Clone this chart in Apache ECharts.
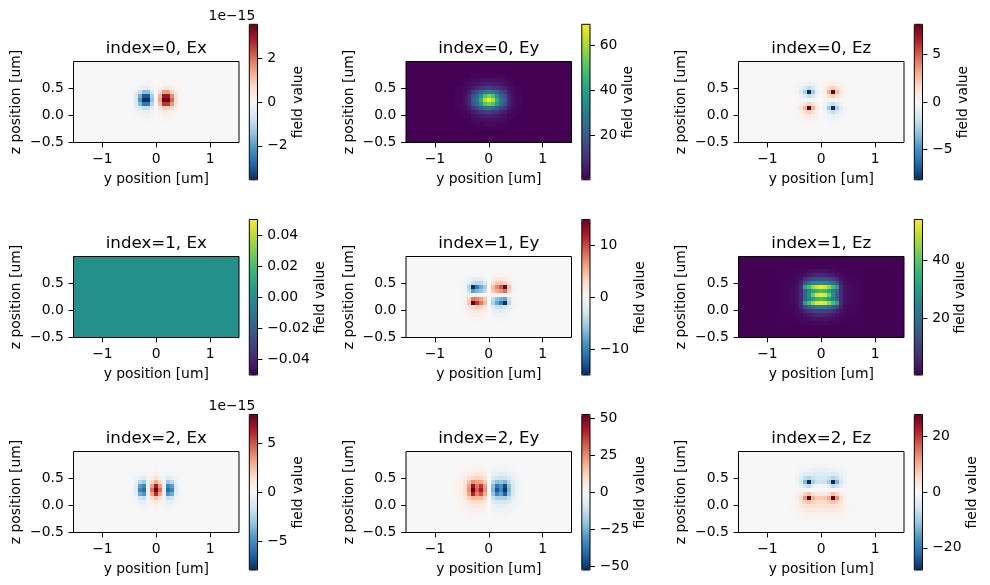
<!DOCTYPE html>
<html>
<head>
<meta charset="utf-8">
<script src="https://cdn.jsdelivr.net/npm/echarts@6/dist/echarts.min.js"></script>
<style>html,body{margin:0;padding:0;background:#fff}#chart{width:990px;height:585px}</style>
</head>
<body>
<div id="chart"></div>
<script>
// Mode field cross-sections on a 41 x 20 mesh. Only the cells around the
// waveguide core are listed: rows 2-16 from the top, columns -10..10 around y=0.
// Everything outside that patch sits at the panel's background level.
const ex0 = [
[0,0,0,0,0,0,0,0,0,0,0,0,0,0,0,0,0,0,0,0,0],
[0,0,0,0,0,0,0,0,0,0,0,0,0,0,0,0,0,0,0,0,0],
[0,0,0,0,0,0,-1,-1,-1,-1,0,1,1,1,1,0,0,0,0,0,0],
[0,0,0,0,-1,-1,-2,-3,-3,-1,0,1,3,3,2,1,1,0,0,0,0],
[0,0,0,0,-1,-3,-6,-10,-10,-4,0,4,10,10,6,3,1,0,0,0,0],
[0,0,0,0,-2,-8,-22,-42,-42,-16,0,16,42,42,22,8,2,0,0,0,0],
[0,0,0,0,-2,-15,-48,-85,-85,-34,0,34,85,85,48,15,2,0,0,0,0],
[0,0,0,0,-2,-18,-58,-100,-100,-40,0,40,100,100,58,18,2,0,0,0,0],
[0,0,0,0,-2,-14,-44,-72,-72,-30,0,30,72,72,44,14,2,0,0,0,0],
[0,0,0,0,-1,-7,-16,-24,-24,-10,0,10,24,24,16,7,1,0,0,0,0],
[0,0,0,0,-1,-3,-6,-9,-9,-4,0,4,9,9,6,3,1,0,0,0,0],
[0,0,0,0,0,-1,-3,-4,-4,-2,0,2,4,4,3,1,0,0,0,0,0],
[0,0,0,0,0,-1,-1,-2,-2,-1,0,1,2,2,1,1,0,0,0,0,0],
[0,0,0,0,0,0,0,-1,-1,0,0,0,1,1,0,0,0,0,0,0,0],
[0,0,0,0,0,0,0,0,0,0,0,0,0,0,0,0,0,0,0,0,0]
];
const ey0 = [
[0,0,0,0,0,0,0,0,0,0,0,0,0,0,0,0,0,0,0,0,0],
[0,0,0,0,0,0,1,1,1,1,1,1,1,1,1,0,0,0,0,0,0],
[0,0,0,0,1,1,2,2,3,3,3,3,3,2,2,1,1,0,0,0,0],
[0,0,0,0,1,2,3,4,5,6,6,6,5,4,3,2,1,0,0,0,0],
[0,0,0,1,2,3,6,8,10,12,13,12,10,8,6,3,2,1,0,0,0],
[0,0,1,1,2,5,12,16,22,28,31,28,22,16,12,5,2,1,1,0,0],
[0,0,1,1,3,7,18,23,36,50,56,50,36,23,18,7,3,1,1,0,0],
[0,0,1,1,3,7,20,26,44,62,69,62,44,26,20,7,3,1,1,0,0],
[0,0,1,1,3,7,18,24,38,50,55,50,38,24,18,7,3,1,1,0,0],
[0,0,1,1,2,5,10,14,20,25,27,25,20,14,10,5,2,1,1,0,0],
[0,0,0,1,1,3,5,7,10,12,13,12,10,7,5,3,1,1,0,0,0],
[0,0,0,0,1,1,3,4,5,6,6,6,5,4,3,1,1,0,0,0,0],
[0,0,0,0,0,1,2,2,3,3,3,3,3,2,2,1,0,0,0,0,0],
[0,0,0,0,0,0,1,1,1,2,2,2,1,1,1,0,0,0,0,0,0],
[0,0,0,0,0,0,0,1,1,1,1,1,1,1,0,0,0,0,0,0,0]
];
const ez0 = [
[0,0,0,0,0,0,0,0,0,0,0,0,0,0,0,0,0,0,0,0,0],
[0,0,0,0,0,0,0,-1,0,0,0,0,0,1,0,0,0,0,0,0,0],
[0,0,0,0,0,-1,-1,-2,-1,-1,0,1,1,2,1,1,0,0,0,0,0],
[0,0,0,0,-1,-3,-5,-7,-5,-2,0,2,5,7,5,3,1,0,0,0,0],
[0,0,0,-1,-2,-8,-16,-25,-18,-6,0,6,18,25,16,8,2,1,0,0,0],
[0,0,0,-1,-4,-12,-32,-100,-36,-8,0,8,36,100,32,12,4,1,0,0,0],
[0,0,0,0,-2,-6,-14,-25,-16,-4,0,4,16,25,14,6,2,0,0,0,0],
[0,0,0,0,0,-1,-1,-2,-1,0,0,0,1,2,1,1,0,0,0,0,0],
[0,0,0,0,1,4,12,24,15,3,0,-3,-15,-24,-12,-4,-1,0,0,0,0],
[0,0,0,1,4,12,32,100,36,7,0,-7,-36,-100,-32,-12,-4,-1,0,0,0],
[0,0,0,1,2,7,16,24,16,4,0,-4,-16,-24,-16,-7,-2,-1,0,0,0],
[0,0,0,0,1,3,6,8,6,2,0,-2,-6,-8,-6,-3,-1,0,0,0,0],
[0,0,0,0,1,1,3,4,3,1,0,-1,-3,-4,-3,-1,-1,0,0,0,0],
[0,0,0,0,0,1,1,2,1,0,0,0,-1,-2,-1,-1,0,0,0,0,0],
[0,0,0,0,0,0,0,0,0,0,0,0,0,0,0,0,0,0,0,0,0]
];
const ex1 = [];
const ey1 = [
[0,0,0,0,0,0,0,0,0,0,0,0,0,0,0,0,0,0,0,0,0],
[0,0,0,0,0,0,0,0,-1,0,0,0,1,0,0,0,0,0,0,0,0],
[0,0,0,0,0,-1,-2,-2,-2,-1,0,1,2,2,2,1,0,0,0,0,0],
[0,0,0,-1,-2,-5,-9,-11,-10,-6,0,6,10,11,9,5,2,1,0,0,0],
[0,0,0,-1,-4,-12,-24,-28,-26,-16,0,16,26,28,24,12,4,1,0,0,0],
[0,0,0,-1,-5,-30,-100,-70,-50,-35,0,32,48,62,100,30,5,1,0,0,0],
[0,0,0,-1,-4,-24,-55,-45,-38,-26,0,26,38,45,55,24,4,1,0,0,0],
[0,0,0,0,0,-1,-3,-3,-3,-1,0,1,3,3,3,1,0,0,0,0,0],
[0,0,0,1,3,22,52,48,40,26,0,-26,-40,-48,-52,-22,-3,-1,0,0,0],
[0,0,0,1,5,28,100,72,52,32,0,-32,-52,-68,-100,-28,-5,-1,0,0,0],
[0,0,0,1,3,10,20,24,22,12,0,-12,-22,-24,-20,-10,-3,-1,0,0,0],
[0,0,0,0,2,5,9,11,10,6,0,-6,-10,-11,-9,-5,-2,0,0,0,0],
[0,0,0,0,1,2,4,5,4,3,0,-3,-4,-5,-4,-2,-1,0,0,0,0],
[0,0,0,0,0,1,2,2,2,1,0,-1,-2,-2,-2,-1,0,0,0,0,0],
[0,0,0,0,0,0,1,1,1,0,0,0,-1,-1,-1,0,0,0,0,0,0]
];
const ez1 = [
[0.6,0.6,0.6,0.6,0.6,0.6,0.6,0.6,0.6,0.6,0.6,0.6,0.6,0.6,0.6,0.6,0.6,0.6,0.6,0.6,0.6],
[0.6,0.6,0.6,0.6,1,1,1,2,2,3,3,3,2,2,1,1,1,0.6,0.6,0.6,0.6],
[0.6,0.6,0.6,1,1,2,3,4,5,6,6,6,5,4,3,2,1,1,0.6,0.6,0.6],
[0.6,0.6,1,1,2,3,7,10,12,13,13,13,12,10,7,3,2,1,1,0.6,0.6],
[0.6,1,1,1,2,5,14,20,24,26,27,26,24,20,14,5,2,1,1,1,0.6],
[0.6,1,1,2,3,7,32,38,46,52,54,52,46,38,32,7,3,2,1,1,0.6],
[0.6,1,1,2,3,6,17,24,32,36,38,36,32,24,17,6,3,2,1,1,0.6],
[0.6,1,1,2,3,7,17,28,42,52,54,52,42,28,17,7,3,2,1,1,0.6],
[0.6,1,1,2,3,6,17,24,30,35,37,35,30,24,17,6,3,2,1,1,0.6],
[0.6,1,1,2,3,7,32,38,46,52,53,52,46,38,32,7,3,2,1,1,0.6],
[0.6,1,1,1,2,5,12,17,21,24,25,24,21,17,12,5,2,1,1,1,0.6],
[0.6,0.6,1,1,2,3,6,8,10,11,11,11,10,8,6,3,2,1,1,0.6,0.6],
[0.6,0.6,0.6,1,1,2,3,4,5,6,6,6,5,4,3,2,1,1,0.6,0.6,0.6],
[0.6,0.6,0.6,0.6,1,1,2,2,3,3,3,3,3,2,2,1,1,0.6,0.6,0.6,0.6],
[0.6,0.6,0.6,0.6,0.6,1,1,1,1,2,2,2,1,1,1,1,0.6,0.6,0.6,0.6,0.6]
];
const ex2 = [
[0,0,0,0,0,0,0,0,0,0,0,0,0,0,0,0,0,0,0,0,0],
[0,0,0,0,0,0,0,0,0,0,1,0,0,0,0,0,0,0,0,0,0],
[0,0,0,0,0,0,-1,-1,-1,0,2,0,-1,-1,-1,0,0,0,0,0,0],
[0,0,0,0,-1,-1,-3,-4,-2,2,6,2,-2,-4,-3,-1,-1,0,0,0,0],
[0,0,0,0,-1,-4,-9,-12,-4,7,15,7,-4,-12,-9,-4,-1,0,0,0,0],
[0,0,0,0,-2,-7,-28,-36,-7,20,38,20,-7,-36,-28,-7,-2,0,0,0,0],
[0,0,0,0,-2,-11,-55,-65,-7,42,80,42,-7,-65,-55,-11,-2,0,0,0,0],
[0,0,0,0,-2,-13,-66,-76,-7,55,100,55,-7,-76,-66,-13,-2,0,0,0,0],
[0,0,0,0,-2,-10,-50,-58,-6,40,75,40,-6,-58,-50,-10,-2,0,0,0,0],
[0,0,0,0,-1,-5,-20,-24,-5,16,30,16,-5,-24,-20,-5,-1,0,0,0,0],
[0,0,0,0,-1,-2,-7,-9,-3,6,12,6,-3,-9,-7,-2,-1,0,0,0,0],
[0,0,0,0,0,-1,-3,-4,-2,2,5,2,-2,-4,-3,-1,0,0,0,0,0],
[0,0,0,0,0,-1,-1,-2,-1,1,2,1,-1,-2,-1,-1,0,0,0,0,0],
[0,0,0,0,0,0,0,-1,0,0,1,0,0,-1,0,0,0,0,0,0,0],
[0,0,0,0,0,0,0,0,0,0,0,0,0,0,0,0,0,0,0,0,0]
];
const ey2 = [
[0,0,0,0,0,0,1,1,1,0,0,0,-1,-1,-1,0,0,0,0,0,0],
[0,0,0,0,1,1,2,2,2,1,0,-1,-2,-2,-2,-1,-1,0,0,0,0],
[0,0,0,1,2,3,4,5,4,3,0,-3,-4,-5,-4,-3,-2,-1,0,0,0],
[0,0,1,2,4,7,10,11,10,7,0,-7,-10,-11,-10,-7,-4,-2,-1,0,0],
[0,0,1,4,8,15,20,22,20,14,0,-14,-20,-22,-20,-15,-8,-4,-1,0,0],
[0,0,2,5,12,28,46,40,40,26,0,-26,-42,-40,-46,-28,-12,-5,-2,0,0],
[0,0,2,5,16,42,85,54,72,42,0,-42,-72,-60,-90,-42,-16,-5,-2,0,0],
[0,0,2,6,17,46,100,60,82,46,0,-46,-85,-64,-100,-46,-17,-6,-2,0,0],
[0,0,2,5,15,40,78,50,64,38,0,-38,-64,-54,-82,-40,-15,-5,-2,0,0],
[0,0,2,4,10,24,34,32,32,22,0,-22,-32,-32,-34,-24,-10,-4,-2,0,0],
[0,0,1,3,6,12,17,18,17,12,0,-12,-17,-18,-17,-12,-6,-3,-1,0,0],
[0,0,0,2,4,6,9,10,9,6,0,-6,-9,-10,-9,-6,-4,-2,0,0,0],
[0,0,0,1,2,4,5,5,5,4,0,-4,-5,-5,-5,-4,-2,-1,0,0,0],
[0,0,0,0,1,2,3,3,3,2,0,-2,-3,-3,-3,-2,-1,0,0,0,0],
[0,0,0,0,0,1,1,1,1,1,0,-1,-1,-1,-1,-1,0,0,0,0,0]
];
const ez2 = [
[0,0,0,0,0,0,0,0,-1,-1,-1,-1,-1,0,0,0,0,0,0,0,0],
[0,0,0,0,0,-1,-1,-2,-2,-3,-3,-3,-2,-2,-1,-1,0,0,0,0,0],
[0,0,0,0,-1,-3,-5,-6,-7,-7,-7,-7,-7,-6,-5,-3,-1,0,0,0,0],
[0,0,0,-1,-3,-7,-11,-13,-12,-12,-12,-12,-12,-13,-11,-7,-3,-1,0,0,0],
[0,0,0,-1,-4,-12,-24,-30,-22,-18,-17,-18,-22,-30,-24,-12,-4,-1,0,0,0],
[0,0,0,-1,-5,-18,-45,-100,-34,-22,-20,-22,-34,-100,-45,-18,-5,-1,0,0,0],
[0,0,0,0,-2,-8,-20,-26,-10,-3,-3,-3,-10,-26,-20,-8,-2,0,0,0,0],
[0,0,0,0,0,0,-1,-1,0,0,0,0,0,-1,-1,0,0,0,0,0,0],
[0,0,0,1,2,8,22,30,16,10,9,10,16,30,22,8,2,1,0,0,0],
[0,0,0,1,5,18,45,100,36,26,25,26,36,100,45,18,5,1,0,0,0],
[0,0,0,1,4,12,24,30,24,20,20,20,24,30,24,12,4,1,0,0,0],
[0,0,1,2,4,8,13,15,15,14,14,14,15,15,13,8,4,2,1,0,0],
[0,0,1,1,3,5,8,9,9,9,9,9,9,9,8,5,3,1,1,0,0],
[0,0,0,1,2,3,4,5,5,5,5,5,5,5,4,3,2,1,0,0,0],
[0,0,0,0,1,2,3,3,3,3,3,3,3,3,3,2,1,0,0,0,0]
];

const titles = ['index=0, Ex','index=0, Ey','index=0, Ez','index=1, Ex','index=1, Ey','index=1, Ez','index=2, Ex','index=2, Ey','index=2, Ez'];
const fields = [ex0,ey0,ez0,ex1,ey1,ez1,ex2,ey2,ez2];
const lowLimits = [-3.55,0,-8.2,-0.05,-15,0.3,-7.9,-52.6,-28];
const highLimits = [3.55,69.5,8.2,0.05,15,54.3,7.9,52.6,28];
const barTicks = [[-2,0,2],[20,40,60],[-5,0,5],[-0.04,-0.02,0,0.02,0.04],[-10,0,10],[20,40],[-5,0,5],[-50,-25,0,25,50],[-20,0,20]];
const offsetLabels = ['1e\u221215','','','','','','1e\u221215','',''];
const yTicks = [-1,0,1];
const zTicks = [-0.5,0,0.5];

const RDBU = ['#053061','#2166ac','#4393c3','#92c5de','#d1e5f0','#f7f7f7','#fddbc7','#f4a582','#d6604d','#b2182b','#67001f'];
const VIRIDIS = ['#440154','#482878','#3e4989','#31688e','#26828e','#1f9e89','#35b779','#6ece58','#b5de2b','#fde725'];

const MESH_COLS = 41, MESH_ROWS = 20, PATCH_ROW = 2, PATCH_COL = 10, CELL = 0.075;
const FONT = 'DejaVu Sans';
const TEXT = {fontFamily: FONT, fontSize: 13.9, color: '#000'};
const gridX = [73.5, 406, 738.5], gridW = 165.5, gridY = [61.5, 256.5, 451.5], gridH = 81;
const barX = [249.3, 581.8, 914.3], barW = 8.2, barY = [24.3, 219.5, 414.5], barH = 155.5;
const barNameGap = [32, 30, 33, 54, 42, 30.5, 32, 41, 41.5];

const minusSign = s => String(s).replace('-', '\u2212');
const lineStyle = {color: '#000', width: 1};

// Patch values are percent of the limit on the diverging panels, raw field on the viridis ones.
function meshCells(patch, isDiverging, high, fill) {
  const scale = isDiverging ? high / 100 : 1;
  const out = [];
  for (let r = 0; r < MESH_ROWS; r++) {
    for (let c = 0; c < MESH_COLS; c++) {
      const row = patch[r - PATCH_ROW];
      const raw = row ? row[c - (20 - PATCH_COL)] : undefined;
      const v = raw === undefined ? fill : (isDiverging || raw > 0 ? raw * scale : fill);
      out.push([(c - 20) * CELL, 1 - (r + 0.5) * CELL, v]);
    }
  }
  return out;
}

// Each mesh cell becomes a rectangle snapped to whole pixels so neighbours share an edge.
function drawCell(params, api) {
  const half = CELL / 2;
  const a = api.coord([api.value(0) - half, api.value(1) + half]);
  const b = api.coord([api.value(0) + half, api.value(1) - half]);
  const x0 = Math.round(a[0]), y0 = Math.round(a[1]);
  return {
    type: 'rect',
    shape: {x: x0, y: y0, width: Math.round(b[0]) - x0, height: Math.round(b[1]) - y0},
    style: {fill: api.visual('color')}
  };
}

const option = {animation: false, backgroundColor: '#fff', title: [], grid: [], xAxis: [], yAxis: [], visualMap: [], series: []};

fields.forEach((patch, i) => {
  const col = i % 3, row = Math.floor(i / 3);
  const low = lowLimits[i], high = highLimits[i];
  const isDiverging = low === -high && i !== 3;
  const mapColors = isDiverging ? RDBU : VIRIDIS;
  const fill = low > 0 ? low + 0.1 : 0;

  option.title.push({
    text: titles[i], left: gridX[col] + gridW / 2, top: gridY[row] - 13.2, padding: 0,
    textAlign: 'center', textVerticalAlign: 'middle',
    textStyle: {fontFamily: FONT, fontSize: 16.67, fontWeight: 'normal', color: '#000'}
  });
  if (offsetLabels[i]) {
    option.title.push({
      text: offsetLabels[i], left: barX[col] + 6, top: barY[row] - 8.3, padding: 0,
      textAlign: 'right', textVerticalAlign: 'middle',
      textStyle: {fontFamily: FONT, fontSize: 13.9, fontWeight: 'normal', color: '#000'}
    });
  }

  option.grid.push(
    {left: gridX[col], top: gridY[row], width: gridW, height: gridH, show: true, z: 5,
     borderColor: '#000', borderWidth: 1, backgroundColor: 'transparent'},
    {left: barX[col], top: barY[row], width: barW, height: barH, show: true, z: 5,
     borderColor: '#000', borderWidth: 1, backgroundColor: 'transparent'}
  );
  const heatGrid = i * 2, barGrid = i * 2 + 1;

  option.xAxis.push(
    {type: 'value', gridIndex: heatGrid, min: -1.5375, max: 1.5375, position: 'bottom', z: 6,
     name: 'y position [um]', nameLocation: 'middle', nameGap: 30, nameTextStyle: TEXT,
     axisLine: {show: false, onZero: false}, splitLine: {show: false},
     axisTick: {show: true, length: 4.9, lineStyle, customValues: yTicks},
     axisLabel: {...TEXT, margin: 10, customValues: yTicks, formatter: v => minusSign(v)}},
    {type: 'value', gridIndex: barGrid, show: false, min: 0, max: 1}
  );
  option.yAxis.push(
    {type: 'value', gridIndex: heatGrid, min: -0.5, max: 1, position: 'left', z: 6,
     name: 'z position [um]', nameLocation: 'middle', nameGap: 50, nameRotate: 90, nameTextStyle: TEXT,
     axisLine: {show: false, onZero: false}, splitLine: {show: false},
     axisTick: {show: true, length: 4.9, lineStyle, customValues: zTicks},
     axisLabel: {...TEXT, margin: 9.7, padding: [2, 0, 0, 0], customValues: zTicks,
       formatter: v => minusSign(Number(v).toFixed(1))}},
    {type: 'value', gridIndex: barGrid, min: low, max: high, position: 'right', z: 6,
     name: 'field value', nameLocation: 'middle', nameGap: barNameGap[i], nameRotate: 90, nameTextStyle: TEXT,
     axisLine: {show: false, onZero: false}, splitLine: {show: false},
     axisTick: {show: true, length: 4.9, lineStyle, customValues: barTicks[i]},
     axisLabel: {...TEXT, margin: 9.7, padding: [2, 0, 0, 0], customValues: barTicks[i],
       formatter: v => minusSign(i === 3 ? Number(v).toFixed(2) : Math.round(v))}}
  );

  option.visualMap.push({
    type: 'continuous', seriesIndex: i, dimension: 2, min: low, max: high,
    left: barX[col], top: barY[row], itemWidth: barW, itemHeight: barH,
    padding: 0, calculable: false, hoverLink: false, realtime: false,
    inRange: {color: mapColors}
  });

  option.series.push({
    type: 'custom', xAxisIndex: i * 2, yAxisIndex: i * 2, progressive: 0, silent: true,
    renderItem: drawCell, encode: {x: 0, y: 1},
    data: meshCells(patch, isDiverging, high, fill)
  });
});

echarts.init(document.getElementById('chart'), null, {renderer: 'canvas'}).setOption(option);
</script>
</body>
</html>
